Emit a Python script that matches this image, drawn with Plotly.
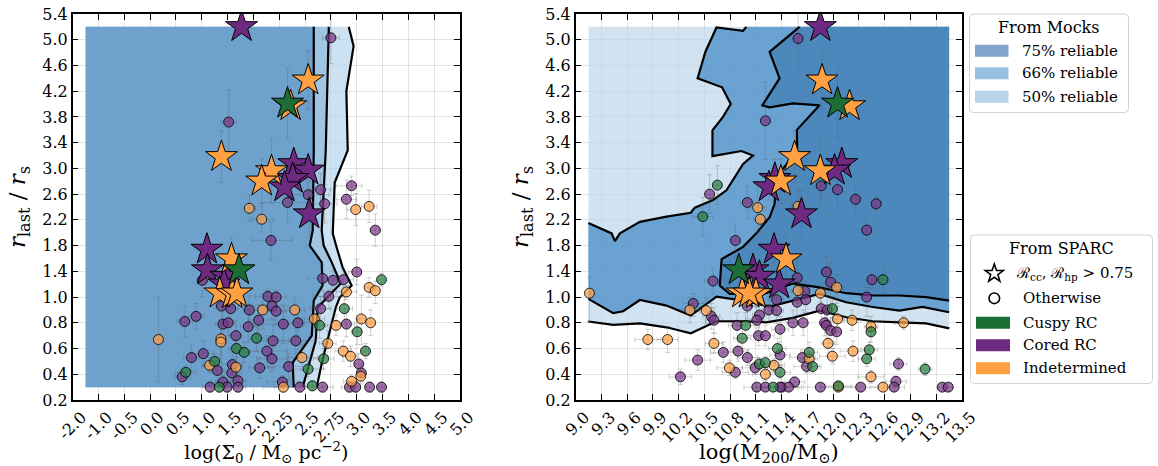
import numpy as np
import plotly.graph_objects as go

# ---------------- tick labels as printed on the axes ----------------
y_tick_labels = [0.2, 0.4, 0.6, 0.8, 1.0, 1.4, 1.8, 2.2, 2.6, 3.0, 3.4, 3.8, 4.2, 4.6, 5.0, 5.4]
sigma_tick_labels = [-2.0, -1.0, -0.5, 0.0, 0.5, 1.0, 1.5, 2.0, 2.25, 2.5, 2.75, 3.0, 3.5, 4.0, 4.5, 5.0]
m200_tick_labels = [9.0, 9.3, 9.6, 9.9, 10.2, 10.5, 10.8, 11.1, 11.4, 11.7, 12.0, 12.3, 12.6, 12.9, 13.2, 13.5]

# ---------------- mock reliability regions ----------------
mock_y_bottom = 0.3
mock_y_top = 5.2
mock_sigma_left = -1.5
mock_m200_left = 9.15
mock_m200_right = 13.35

# left panel contour lines (sigma, r_last/r_s), top to bottom
sig75_x = [2.584, 2.584, 2.574, 2.545, 2.661, 2.670, 2.584, 2.565, 2.380, 2.390]
sig75_y = [5.2, 3.28, 2.036, 1.80, 1.54, 1.18, 0.973, 0.70, 0.49, 0.3]
sig66_x = [2.73, 2.72, 2.70, 2.661, 2.68, 2.758, 2.845, 2.622, 2.603, 2.477]
sig66_y = [5.2, 4.4, 3.28, 2.036, 1.80, 1.54, 1.21, 0.919, 0.662, 0.3]
sig50_x = [2.923, 2.97, 2.90, 2.913, 2.787, 2.768, 2.806, 2.864, 2.951, 2.835, 2.797, 2.661, 2.613]
sig50_y = [5.2, 4.90, 4.2, 3.28, 2.78, 1.99, 1.77, 1.46, 1.18, 0.996, 0.919, 0.483, 0.3]

# right panel contour lines (log M200, r_last/r_s)
m50_x = [9.147, 9.437, 9.748, 10.058, 10.341, 10.64, 10.949, 11.221, 11.53, 11.841, 12.151, 12.46, 12.771, 13.081, 13.352]
m50_y = [0.81, 0.784, 0.796, 0.765, 0.718, 0.812, 0.812, 0.804, 0.838, 0.895, 0.843, 0.812, 0.804, 0.796, 0.757]
m66_low_x = [9.147, 9.437, 9.553, 9.748, 10.058, 10.34, 10.64, 10.95, 11.26, 11.53, 11.84, 12.15, 12.46, 12.77, 13.04, 13.35]
m66_low_y = [0.986, 0.875, 0.89, 0.977, 0.934, 0.856, 1.008, 0.973, 0.926, 0.973, 1.05, 0.96, 0.923, 0.895, 0.923, 0.882]
m66_up_x = [9.147, 9.419, 9.457, 9.515, 9.748, 10.058, 10.34, 10.387, 10.60, 10.756, 10.95, 11.065, 10.93, 10.593,
            10.593, 10.64, 10.716, 10.806, 10.705, 10.42, 10.51, 10.64, 10.95, 10.988]
m66_up_y = [2.15, 1.99, 1.87, 1.99, 2.17, 2.25, 2.31, 2.39, 2.51, 2.66, 3.07, 3.20, 3.27, 3.19,
            3.59, 3.67, 3.80, 4.00, 4.26, 4.40, 4.81, 5.19, 5.139, 5.2]
m75_x = [11.608, 11.259, 11.375, 11.22, 11.174, 11.259, 11.53, 11.841, 11.577, 11.58, 11.45, 11.356, 11.33, 11.317,
         11.259, 11.104, 10.95, 10.70, 10.678, 10.794, 11.18, 11.53, 11.841, 12.151, 12.46, 12.77, 13.08, 13.35]
m75_y = [5.2, 4.81, 4.40, 4.09, 3.98, 3.95, 4.01, 3.98, 3.60, 3.31, 3.05, 2.92, 2.71, 2.45,
         2.24, 1.99, 1.78, 1.59, 1.18, 1.05, 1.04, 1.21, 1.15, 1.06, 1.024, 1.024, 0.999, 0.973]

# ---------------- SPARC galaxies: stars (R_cc, R_hp > 0.75) ----------------
star_y = [5.20, 4.37, 4.01, 3.97, 3.18, 2.96, 3.07, 2.97, 2.84, 2.80, 2.71, 2.29, 1.74, 1.59, 1.42, 1.42, 1.32, 1.20, 1.06, 1.05, 1.06]
star_class = ["cored", "indet", "cuspy", "indet", "indet", "indet", "cored", "cored", "cored", "indet", "cored",
              "cored", "cored", "indet", "cuspy", "cored", "cored", "cored", "indet", "indet", "indet"]
star_sigma = [1.77, 2.53, 2.33, 2.36, 1.38, 2.175, 2.39, 2.53, 2.38, 2.08, 2.30, 2.54, 1.10, 1.575, 1.72, 1.11, 1.465, 1.43, 1.35, 1.59, 1.68]
star_m200 = [11.85, 11.87, 12.05, 12.19, 11.55, 11.85, 12.10, 12.015, 11.32, 11.39, 11.25, 11.63, 11.31, 11.45, 10.90, 11.065, 11.14, 11.37, 10.94, 11.10, 11.02]
star_y_err = [0.05, 0.45, 0.55, 0.10, 0.40, 0.50, 0.10, 0.15, 0.30, 0.35, 0.20, 0.35, 0.20, 0.35, 0.20, 0.15, 0.15, 0.15, 0.10, 0.12, 0.10]
star_sigma_err = [0.05, 0.08, 0.06, 0.06, 0.05, 0.08, 0.06, 0.06, 0.06, 0.10, 0.06, 0.06, 0.05, 0.05, 0.05, 0.05, 0.06, 0.06, 0.05, 0.05, 0.05]
star_m200_err = [0.05, 0.05, 0.05, 0.05, 0.05, 0.06, 0.05, 0.05, 0.05, 0.06, 0.05, 0.05, 0.05, 0.05, 0.05, 0.05, 0.05, 0.05, 0.05, 0.05, 0.05]

# ---------------- SPARC galaxies: circles (left panel) ----------------
circ_l_sigma = [2.95, 2.90, 2.99, 3.24, 2.53, 2.65, 2.69, 2.33, 1.92, 2.08, 3.36, 2.17, 3.00, 3.48, 2.67, 2.77, 2.87,
                3.24, 3.36, 2.90, 2.73, 1.01, 2.14, 2.22, 2.18, 2.22, 1.38, 1.56, 2.09, 2.40, 1.92, 2.65, 2.88, 0.89,
                0.67, 3.09, 3.27, 2.90, 2.59, 2.64, 2.80, 1.41, 1.51, 2.05, 2.29, 2.43, 3.01, 1.90, 1.66, 2.03, 1.37,
                1.37, 0.16, 2.19, 2.41, 2.72, 1.03, 0.80, 1.67, 1.82, 2.13, 2.18, 2.87, 3.17, 2.94, 2.47, 2.68, 3.04,
                2.34, 2.06, 1.30, 1.59, 1.66, 1.15, 1.25, 2.53, 0.69, 0.62, 1.58, 3.09, 3.08, 1.41, 1.70, 2.28, 2.95,
                1.16, 1.34, 1.49, 1.70, 2.29, 2.45, 2.57, 2.67, 2.93, 2.99, 3.25, 3.48, 1.52, 2.75]
circ_l_y = [2.73, 2.52, 2.36, 2.41, 2.59, 2.67, 2.45, 2.47, 2.38, 2.21, 2.04, 1.88, 1.39, 1.27, 1.29, 1.26, 1.27,
            1.15, 1.10, 1.08, 1.01, 1.26, 1.01, 1.00, 0.93, 0.89, 0.93, 0.91, 0.90, 0.90, 0.90, 0.91, 0.91, 0.85,
            0.81, 0.83, 0.80, 0.79, 0.83, 0.78, 0.78, 0.79, 0.80, 0.82, 0.79, 0.80, 0.73, 0.77, 0.70, 0.68, 0.675,
            0.65, 0.67, 0.66, 0.66, 0.64, 0.56, 0.53, 0.60, 0.57, 0.58, 0.52, 0.58, 0.58, 0.54, 0.53, 0.52, 0.48,
            0.46, 0.45, 0.43, 0.475, 0.455, 0.47, 0.50, 0.44, 0.415, 0.38, 0.41, 0.41, 0.385, 0.34, 0.35, 0.34, 0.345,
            0.30, 0.30, 0.30, 0.30, 0.30, 0.30, 0.31, 0.30, 0.30, 0.30, 0.30, 0.30, 3.72, 5.03]
circ_l_class = ["cored", "cored", "indet", "indet", "cored", "cored", "cored", "cored", "indet", "indet", "cored", "cored", "cored", "cuspy", "cored", "cored", "cored",
                "indet", "indet", "indet", "cored", "cored", "cored", "cored", "cored", "cored", "cored", "cored", "indet", "indet", "cored", "cored", "cuspy", "cored",
                "cored", "indet", "indet", "cored", "indet", "cuspy", "indet", "cored", "cored", "cored", "cored", "cored", "cuspy", "cored", "cored", "cuspy", "indet",
                "indet", "indet", "cored", "cored", "indet", "cored", "cored", "cuspy", "cuspy", "cored", "cored", "indet", "cuspy", "indet", "indet", "cuspy", "cored",
                "cored", "cored", "cored", "cored", "indet", "indet", "cuspy", "cuspy", "cuspy", "cored", "cored", "cored", "indet", "cored", "cored", "cored", "indet",
                "cored", "cuspy", "cored", "cored", "indet", "cored", "cuspy", "cored", "cored", "cored", "cored", "cored", "cored", "cored"]
circ_l_sigma_err = [0.15, 0.10, 0.08, 0.15, 0.20, 0.10, 0.12, 0.25, 0.10, 0.12, 0.10, 0.20, 0.08, 0.06, 0.15, 0.10, 0.10,
                    0.08, 0.08, 0.10, 0.15, 0.10, 0.12, 0.10, 0.20, 0.10, 0.12, 0.15, 0.10, 0.10, 0.12, 0.10, 0.08, 0.15,
                    0.15, 0.06, 0.06, 0.08, 0.10, 0.08, 0.10, 0.15, 0.12, 0.15, 0.20, 0.15, 0.06, 0.15, 0.12, 0.10, 0.10,
                    0.10, 0.06, 0.15, 0.20, 0.08, 0.20, 0.15, 0.15, 0.12, 0.20, 0.15, 0.08, 0.06, 0.08, 0.15, 0.10, 0.06,
                    0.20, 0.15, 0.15, 0.20, 0.12, 0.15, 0.12, 0.15, 0.20, 0.15, 0.20, 0.06, 0.06, 0.15, 0.15, 0.15, 0.08,
                    0.15, 0.12, 0.15, 0.15, 0.20, 0.25, 0.10, 0.10, 0.08, 0.08, 0.06, 0.06, 0.15, 0.08]
circ_l_y_err = [0.15, 0.30, 0.25, 0.25, 0.20, 0.25, 0.30, 0.30, 0.20, 0.20, 0.25, 0.30, 0.20, 0.10, 0.20, 0.15, 0.20,
                0.15, 0.15, 0.10, 0.10, 0.25, 0.10, 0.10, 0.10, 0.10, 0.15, 0.10, 0.15, 0.10, 0.12, 0.10, 0.10, 0.10,
                0.12, 0.20, 0.10, 0.10, 0.10, 0.10, 0.08, 0.15, 0.10, 0.12, 0.15, 0.10, 0.10, 0.12, 0.12, 0.10, 0.15,
                0.10, 0.33, 0.12, 0.10, 0.10, 0.10, 0.10, 0.10, 0.08, 0.12, 0.10, 0.08, 0.06, 0.08, 0.10, 0.08, 0.08,
                0.10, 0.08, 0.08, 0.10, 0.08, 0.06, 0.06, 0.06, 0.05, 0.06, 0.08, 0.06, 0.06, 0.05, 0.05, 0.05, 0.05,
                0.04, 0.04, 0.04, 0.04, 0.04, 0.04, 0.04, 0.04, 0.04, 0.04, 0.04, 0.04, 0.50, 0.40]

# ---------------- SPARC galaxies: circles (right panel) ----------------
circ_r_m200 = [11.59, 11.21, 11.86, 12.05, 12.26, 12.50, 12.39, 11.59, 10.65, 10.56, 11.00, 11.12, 11.15, 10.48, 10.86,
               10.60, 11.58, 11.92, 11.97, 12.04, 12.45, 12.58, 12.39, 11.59, 11.67, 11.85, 9.16, 10.37, 10.33, 10.52,
               10.58, 10.61, 11.34, 11.58, 11.68, 11.00, 11.25, 11.34, 11.14, 11.11, 11.86, 11.93, 11.99, 12.05, 12.22,
               12.44, 12.44, 12.82, 11.53, 11.65, 11.90, 11.92, 11.97, 12.04, 10.98, 10.88, 11.38, 11.13, 11.21, 10.94,
               9.84, 10.07, 10.61, 11.94, 10.89, 11.35, 10.72, 11.38, 11.72, 12.23, 12.42, 11.00, 11.64, 11.72, 11.99,
               12.39, 10.42, 10.79, 10.86, 11.09, 11.14, 11.21, 11.31, 11.38, 11.69, 11.76, 12.76, 13.07, 10.22, 11.21,
               12.44, 12.73, 11.55, 11.11, 11.21, 11.40, 11.48, 11.85, 12.32, 12.71, 13.27, 13.34, 11.30, 12.06, 11.38,
               12.06, 12.58]
circ_r_y = [5.02, 3.74, 2.73, 2.67, 2.52, 2.45, 2.04, 2.41, 2.74, 2.60, 2.47, 2.39, 2.21, 2.25, 1.88,
            1.25, 1.30, 1.39, 1.23, 1.15, 1.27, 1.27, 1.00, 1.10, 1.09, 1.06, 1.06, 0.95, 0.90, 0.895,
            0.85, 0.82, 0.98, 0.96, 0.98, 0.93, 0.90, 0.895, 0.86, 0.82, 0.91, 0.90, 0.91, 0.83, 0.82,
            0.77, 0.73, 0.80, 0.80, 0.80, 0.80, 0.78, 0.74, 0.73, 0.78, 0.78, 0.75, 0.70, 0.70, 0.68,
            0.67, 0.67, 0.64, 0.64, 0.58, 0.60, 0.57, 0.55, 0.57, 0.58, 0.59, 0.53, 0.53, 0.52, 0.54,
            0.52, 0.51, 0.45, 0.415, 0.45, 0.48, 0.49, 0.47, 0.415, 0.46, 0.46, 0.48, 0.44, 0.38, 0.40,
            0.38, 0.345, 0.34, 0.30, 0.30, 0.30, 0.30, 0.30, 0.30, 0.30, 0.30, 0.30, 0.30, 0.31, 0.30,
            0.30, 0.30]
circ_r_class = ["cored", "cored", "cored", "cored", "cored", "cored", "cored", "indet", "cuspy", "cored", "cored", "indet", "indet", "cuspy", "cored",
                "cored", "cored", "cored", "cored", "indet", "cored", "cuspy", "cored", "indet", "cored", "indet", "indet", "cored", "indet", "indet",
                "cored", "cored", "cored", "cored", "cored", "cored", "cored", "cored", "cored", "cored", "cored", "cored", "cuspy", "indet", "indet",
                "indet", "cuspy", "indet", "cored", "cored", "cored", "cored", "cored", "cored", "cuspy", "cored", "cored", "cored", "cored", "cuspy",
                "indet", "indet", "indet", "indet", "cored", "cuspy", "cored", "cored", "cuspy", "indet", "cuspy", "cored", "cored", "indet", "indet",
                "cuspy", "cored", "indet", "cored", "cored", "cuspy", "cuspy", "indet", "cuspy", "cored", "cuspy", "cored", "cuspy", "cored", "indet",
                "indet", "cored", "cored", "cored", "cored", "cored", "cored", "cored", "cored", "cored", "cored", "cored", "cuspy", "cuspy", "cored",
                "indet", "indet"]
circ_r_m200_err = [0.05, 0.05, 0.05, 0.05, 0.05, 0.05, 0.05, 0.08, 0.05, 0.05, 0.08, 0.10, 0.08, 0.12, 0.05,
                   0.10, 0.05, 0.05, 0.05, 0.08, 0.05, 0.05, 0.05, 0.08, 0.05, 0.05, 0.05, 0.12, 0.10, 0.08,
                   0.10, 0.10, 0.08, 0.05, 0.05, 0.10, 0.08, 0.08, 0.08, 0.08, 0.05, 0.05, 0.05, 0.08, 0.10,
                   0.08, 0.05, 0.10, 0.08, 0.05, 0.05, 0.05, 0.05, 0.05, 0.10, 0.10, 0.10, 0.12, 0.10, 0.10,
                   0.15, 0.12, 0.10, 0.08, 0.12, 0.10, 0.15, 0.12, 0.10, 0.15, 0.10, 0.12, 0.15, 0.10, 0.15,
                   0.10, 0.15, 0.15, 0.15, 0.15, 0.12, 0.12, 0.12, 0.12, 0.15, 0.10, 0.10, 0.08, 0.13, 0.15,
                   0.15, 0.12, 0.12, 0.15, 0.15, 0.20, 0.15, 0.20, 0.20, 0.12, 0.05, 0.05, 0.20, 0.15, 0.20,
                   0.20, 0.15]
circ_r_y_err = [0.45, 0.60, 0.20, 0.25, 0.20, 0.10, 0.15, 0.25, 0.30, 0.30, 0.25, 0.40, 0.20, 0.30, 0.25,
                0.20, 0.30, 0.25, 0.30, 0.20, 0.15, 0.20, 0.15, 0.15, 0.15, 0.10, 0.25, 0.10, 0.10, 0.10,
                0.10, 0.10, 0.12, 0.10, 0.10, 0.10, 0.10, 0.10, 0.10, 0.10, 0.12, 0.12, 0.10, 0.10, 0.08,
                0.08, 0.08, 0.05, 0.10, 0.10, 0.10, 0.10, 0.10, 0.10, 0.10, 0.10, 0.10, 0.08, 0.08, 0.08,
                0.08, 0.10, 0.08, 0.10, 0.08, 0.08, 0.08, 0.08, 0.08, 0.08, 0.06, 0.06, 0.06, 0.06, 0.06,
                0.06, 0.08, 0.06, 0.05, 0.05, 0.05, 0.05, 0.05, 0.05, 0.05, 0.05, 0.05, 0.05, 0.06, 0.05,
                0.05, 0.04, 0.04, 0.03, 0.03, 0.03, 0.03, 0.03, 0.03, 0.03, 0.03, 0.03, 0.03, 0.03, 0.03,
                0.03, 0.03]

# ---------------- legend content ----------------
mock_legend_title = "From Mocks"
mock_legend_names = ["75% reliable", "66% reliable", "50% reliable"]
sparc_legend_title = "From SPARC"
sparc_marker_names = ["ℛ<sub>cc</sub>, ℛ<sub>hp</sub> > 0.75", "Otherwise"]
sparc_class_names = ["Cuspy RC", "Cored RC", "Indetermined"]

# ---------------- styles / page geometry ----------------
W, H = 1158, 466
FONT = "DejaVu Serif"
class_color = {"cuspy": "#1c6e35", "cored": "#6e2a80", "indet": "#ffa043"}
class_circle = {"cuspy": "rgba(40,125,65,0.72)", "cored": "rgba(120,55,135,0.72)", "indet": "rgba(255,160,70,0.72)"}
err_color = "rgba(90,90,90,0.28)"
fill_left = {"50": "rgba(184,214,235,0.72)", "66": "rgba(141,186,220,0.72)", "75": "rgba(91,147,195,0.72)"}
fill_right = {"50": "rgba(191,216,234,0.72)", "66": "rgba(67,138,197,0.72)", "75": "rgba(66,126,180,0.72)"}
mock_legend_colors = ["rgb(128,166,204)", "rgb(152,192,224)", "rgb(182,213,235)"]


def scale(v, ticks):
    """piecewise-linear axis scale defined by the printed tick labels"""
    v = np.atleast_1d(np.asarray(v, float))
    t = np.asarray(ticks, float)
    out = np.interp(v, t, np.arange(len(t), dtype=float))
    lo, hi = v < t[0], v > t[-1]
    out[lo] = (v[lo] - t[0]) / (t[1] - t[0])
    out[hi] = len(t) - 1 + (v[hi] - t[-1]) / (t[-1] - t[-2])
    return out


def ypos(v):
    return scale(v, y_tick_labels)


def spos(v):
    return scale(v, sigma_tick_labels)


def err_pos(vals, errs, f):
    v = np.asarray(vals, float)
    e = np.asarray(errs, float)
    c = f(v)
    return f(v + e) - c, c - f(v - e)


# screen pixel -> paper fraction
def px(x):
    return x / W


def py(y):
    return 1 - y / H


fig = go.Figure()


def poly(xs, ys, color, xa, ya):
    fig.add_trace(go.Scatter(x=xs, y=ys, mode="lines", fill="toself", fillcolor=color,
                             line=dict(width=0), hoverinfo="skip", showlegend=False, xaxis=xa, yaxis=ya))


# left panel: region to the left of each contour
for key, lx, ly in [("50", sig50_x, sig50_y), ("66", sig66_x, sig66_y), ("75", sig75_x, sig75_y)]:
    xs = np.concatenate([spos([mock_sigma_left, mock_sigma_left]), spos(lx)])
    ys = np.concatenate([ypos([mock_y_bottom, mock_y_top]), ypos(ly)])
    poly(xs, ys, fill_left[key], "x", "y")

# right panel
xs50 = np.concatenate([[mock_m200_left, mock_m200_right, mock_m200_right], m50_x[::-1]])
ys50 = np.concatenate([ypos([mock_y_top, mock_y_top, m50_y[-1]]), ypos(m50_y[::-1])])
poly(xs50, ys50, fill_right["50"], "x2", "y2")
xs66 = np.concatenate([m66_up_x, [mock_m200_right], m66_low_x[::-1]])
ys66 = np.concatenate([ypos(m66_up_y), ypos([mock_y_top]), ypos(m66_low_y[::-1])])
poly(xs66, ys66, fill_right["66"], "x2", "y2")
xs75 = np.concatenate([m75_x, [mock_m200_right]])
ys75 = np.concatenate([ypos(m75_y), ypos([mock_y_top])])
poly(xs75, ys75, fill_right["75"], "x2", "y2")

# contour lines
for lx, ly in [(sig75_x, sig75_y), (sig66_x, sig66_y), (sig50_x, sig50_y)]:
    fig.add_trace(go.Scatter(x=spos(lx), y=ypos(ly), mode="lines", line=dict(color="black", width=2.2),
                             hoverinfo="skip", showlegend=False, xaxis="x", yaxis="y"))
for lx, ly in [(m50_x, m50_y), (m66_low_x, m66_low_y), (m66_up_x, m66_up_y), (m75_x, m75_y)]:
    fig.add_trace(go.Scatter(x=lx, y=ypos(ly), mode="lines", line=dict(color="black", width=2.2),
                             hoverinfo="skip", showlegend=False, xaxis="x2", yaxis="y2"))


def points(xv, yv, ex, ey, cls, which, symbol, size, color_map, xa, ya, lw):
    xv, yv, ex, ey = map(lambda a: np.asarray(a, float), (xv, yv, ex, ey))
    cls = np.asarray(cls)
    for c in ["cored", "indet", "cuspy"]:
        m = cls == c
        if not m.any():
            continue
        yp, ym = err_pos(yv[m], ey[m], ypos)
        if which == "sigma":
            xp_, xm_ = err_pos(xv[m], ex[m], spos)
            xx = spos(xv[m])
        else:
            xp_, xm_ = ex[m], ex[m]
            xx = xv[m]
        fig.add_trace(go.Scatter(
            x=xx, y=ypos(yv[m]), mode="markers",
            marker=dict(symbol=symbol, size=size, color=color_map[c], line=dict(color="black", width=lw)),
            error_x=dict(type="data", symmetric=False, array=xp_, arrayminus=xm_, color=err_color, thickness=1, width=2.5),
            error_y=dict(type="data", symmetric=False, array=yp, arrayminus=ym, color=err_color, thickness=1, width=2.5),
            hoverinfo="skip", showlegend=False, xaxis=xa, yaxis=ya))


points(circ_l_sigma, circ_l_y, circ_l_sigma_err, circ_l_y_err, circ_l_class, "sigma", "circle", 10, class_circle, "x", "y", 0.8)
points(circ_r_m200, circ_r_y, circ_r_m200_err, circ_r_y_err, circ_r_class, "m200", "circle", 10, class_circle, "x2", "y2", 0.8)
points(star_sigma, star_y, star_sigma_err, star_y_err, star_class, "sigma", "star", 24, class_color, "x", "y", 1)
points(star_m200, star_y, star_m200_err, star_y_err, star_class, "m200", "star", 24, class_color, "x2", "y2", 1)

# ---------------- hand-drawn legends ----------------
def rounded_box(x0, y0, x1, y1, r=4):
    rx, ry = r / W, r / H
    a, b, c, d = px(x0), py(y1), px(x1), py(y0)  # left, bottom, right, top
    return (f"M{a + rx},{b} L{c - rx},{b} Q{c},{b} {c},{b + ry} L{c},{d - ry} Q{c},{d} {c - rx},{d} "
            f"L{a + rx},{d} Q{a},{d} {a},{d - ry} L{a},{b + ry} Q{a},{b} {a + rx},{b} Z")


def star_path(cx, cy, ro, ri):
    pts = []
    for k in range(10):
        ang = -np.pi / 2 + k * np.pi / 5
        r = ro if k % 2 == 0 else ri
        pts.append((px(cx + r * np.cos(ang)), py(cy + r * np.sin(ang))))
    return "M" + " L".join(f"{x:.5f},{y:.5f}" for x, y in pts) + " Z"


shapes = []
annos = []
box_line = dict(color="rgb(210,210,210)", width=1)
shapes.append(dict(type="path", xref="paper", yref="paper", path=rounded_box(969.5, 14, 1128.5, 112.5),
                   line=box_line, fillcolor="white", layer="above"))
shapes.append(dict(type="path", xref="paper", yref="paper", path=rounded_box(970.5, 235, 1152.5, 383.5),
                   line=box_line, fillcolor="white", layer="above"))


def text(x, y, s, anchor="left", size=15):
    annos.append(dict(x=px(x), y=py(y), xref="paper", yref="paper", text=s, showarrow=False,
                      xanchor=anchor, yanchor="middle", font=dict(family=FONT, size=size, color="black")))


def patch(x0, x1, yc, color):
    shapes.append(dict(type="rect", xref="paper", yref="paper", x0=px(x0), x1=px(x1), y0=py(yc + 6), y1=py(yc - 6),
                       fillcolor=color, line=dict(width=0), layer="above"))


text(1049, 28, mock_legend_title, "center", 16)
for yc, name, col in zip([50.7, 73.3, 96.7], mock_legend_names, mock_legend_colors):
    patch(975, 1008.5, yc, col)
    text(1020, yc, name)

text(1061.5, 248.5, sparc_legend_title, "center", 16)
shapes.append(dict(type="path", xref="paper", yref="paper", path=star_path(994.3, 273.5, 9.5, 3.8),
                   line=dict(color="black", width=1.6), fillcolor="white", layer="above"))
text(1014, 273, sparc_marker_names[0])
shapes.append(dict(type="circle", xref="paper", yref="paper", x0=px(989), x1=px(999.6), y0=py(303.6), y1=py(293),
                   line=dict(color="black", width=1.6), fillcolor="white", layer="above"))
text(1021, 298.3, sparc_marker_names[1])
for yc, name, c in zip([322.7, 345.2, 368.3], sparc_class_names, ["cuspy", "cored", "indet"]):
    patch(976, 1010, yc, class_color[c])
    text(1021, yc, name)

# ---------------- axes ----------------
def fmt(v):
    s = f"{v:.2f}".rstrip("0")
    return s + "0" if s.endswith(".") else s


axis_common = dict(showline=True, linecolor="black", linewidth=1.5, mirror="allticks", ticks="inside",
                   ticklen=6, tickwidth=1.2, tickcolor="black", showgrid=True, gridcolor="rgba(0,0,0,0.11)",
                   gridwidth=1, zeroline=False, automargin=False, ticklabeloverflow="allow",
                   tickfont=dict(family=FONT, size=16, color="black"))
idx = list(range(16))
ytitle = "<i>r</i><sub>last</sub> / <i>r</i><sub>s</sub>"
ydom = [py(400), py(14)]

fig.update_layout(
    width=W, height=H, margin=dict(l=0, r=0, t=0, b=0),
    paper_bgcolor="white", plot_bgcolor="white", showlegend=False,
    font=dict(family=FONT, color="black"),
    shapes=shapes, annotations=annos,
    xaxis=dict(domain=[px(72.7), px(460)], range=[0, 15], tickvals=idx, ticktext=[fmt(v) for v in sigma_tick_labels],
               tickangle=-45, ticklabelshift=9, anchor="y",
               title=dict(text="log(Σ<sub>0</sub> / M<sub>⊙</sub> pc<sup>−2</sup>)", font=dict(family=FONT, size=19), standoff=8),
               **axis_common),
    yaxis=dict(domain=ydom, range=[0, 15], tickvals=idx, ticktext=[fmt(v) for v in y_tick_labels], anchor="x",
               title=dict(text=ytitle, font=dict(family=FONT, size=23), standoff=10),
               **axis_common),
    xaxis2=dict(domain=[px(575.7), px(962)], range=[9.0, 13.5], tickvals=m200_tick_labels, ticktext=[fmt(v) for v in m200_tick_labels],
                tickangle=-45, ticklabelshift=9, anchor="y2",
                title=dict(text="log(M<sub>200</sub>/M<sub>⊙</sub>)", font=dict(family=FONT, size=21), standoff=8),
                **axis_common),
    yaxis2=dict(domain=ydom, range=[0, 15], tickvals=idx, ticktext=[fmt(v) for v in y_tick_labels], anchor="x2",
                title=dict(text=ytitle, font=dict(family=FONT, size=23), standoff=10),
                **axis_common),
)

# remove the page's default body margin so the figure fills the window exactly; hide the mode bar
fig.write_html("out.html", config={"displayModeBar": False},
               post_script="document.body.style.margin='0';document.body.style.overflow='hidden';")
